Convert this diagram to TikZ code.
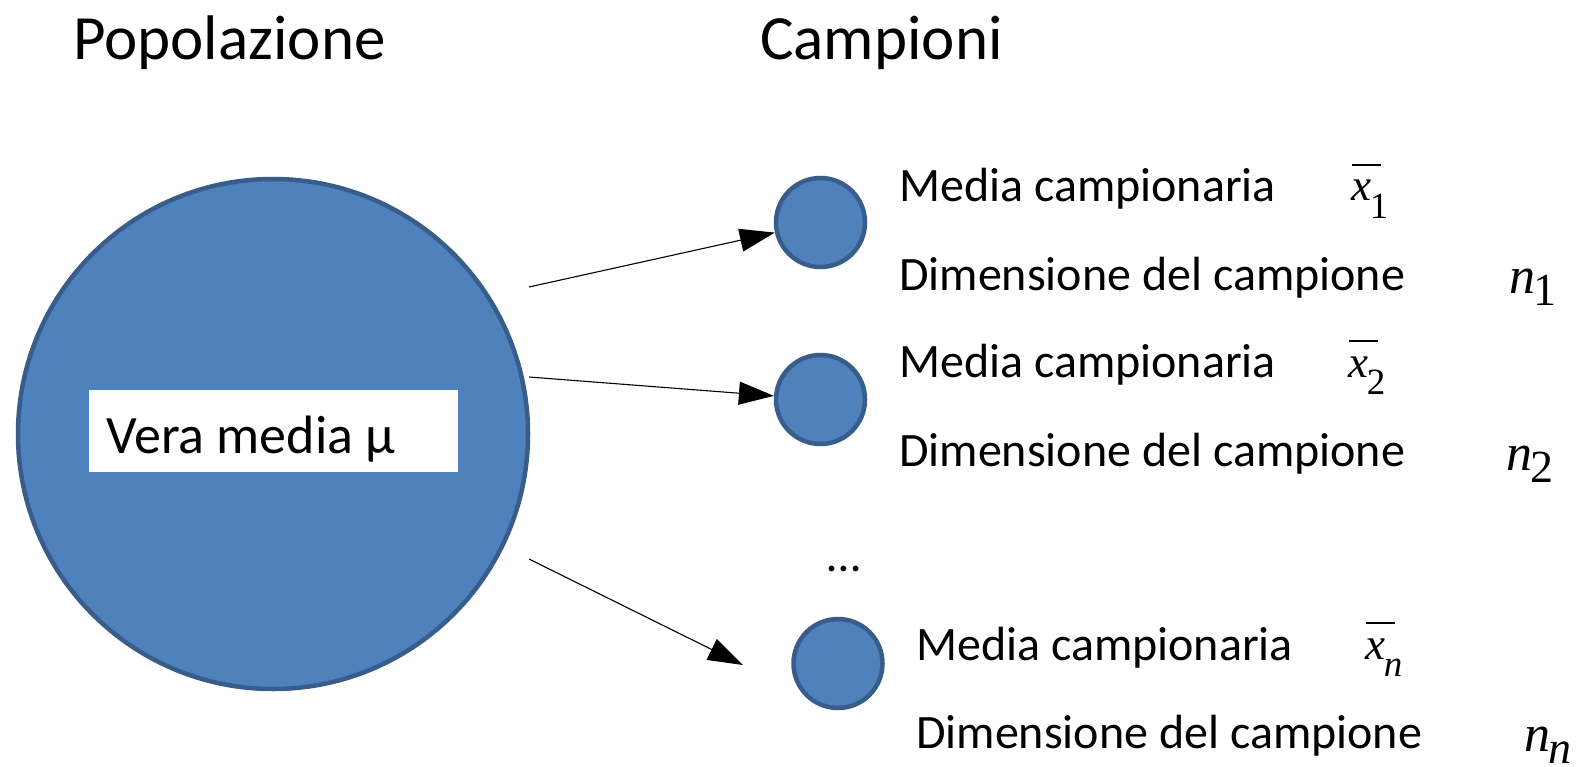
\documentclass[tikz,border=0pt]{standalone}
\usepackage{fontspec}
\setmainfont{Carlito}
\newfontfamily\tms{Liberation Serif}
\usetikzlibrary{arrows.meta}
\definecolor{popfill}{HTML}{4F81BD}
\definecolor{popdraw}{HTML}{385D8A}
\newcommand\myxbar[1]{{\tms\itshape\fontsize{45}{45}\selectfont\makebox[0pt][l]{\hspace{0.02em}\raisebox{0.77em}{\rule{0.64em}{2.2pt}}}x\kern-0.03em\raisebox{-0.38em}{\fontsize{37}{37}\selectfont #1}}}
\newcommand\mynn[1]{{\tms\itshape\fontsize{52}{52}\selectfont n\kern-0.04em\raisebox{-0.24em}{\fontsize{46}{46}\selectfont #1}}}
\begin{document}
\begin{tikzpicture}[x=1pt,y=-1pt,
  bigcirc/.style={circle, fill=popfill, draw=popdraw, line width=4.5pt, minimum size=510pt, inner sep=0pt},
  smallcirc/.style={circle, fill=popfill, draw=popdraw, line width=4.5pt, minimum size=89pt, inner sep=0pt},
  txt/.style={anchor=base west, inner sep=0pt, font=\fontsize{48}{48}\selectfont},
  ttl/.style={anchor=base west, inner sep=0pt, font=\fontsize{63}{63}\selectfont},
  mth/.style={anchor=base west, inner sep=0pt},
  arr/.style={-{Triangle[length=35pt,width=23pt]}, line width=1.1pt, black}
]
\useasboundingbox (0,0) rectangle (1578,767);

\node[ttl] (tpop) at (73,60) {Popolazione};
\node[ttl] (tcamp) at (760,60) {Campioni};

\node[bigcirc] (pop) at (273,434) {};
\node[fill=white, minimum width=369pt, minimum height=82pt, inner sep=0pt] (box) at (273.5,431) {};
\node[anchor=base west, inner sep=0pt, font=\fontsize{54}{54}\selectfont] (vera) at (106,453) {Vera media μ};

\node[smallcirc] (c1) at (820.5,222.5) {};
\node[smallcirc] (c2) at (820.5,399.5) {};
\node[smallcirc] (c3) at (838,663.5) {};

\node[txt] (m1) at (899,202) {Media campionaria};
\node[txt] (d1) at (899,290) {Dimensione del campione};
\node[txt] (m2) at (899,377) {Media campionaria};
\node[txt] (d2) at (899,466) {Dimensione del campione};
\node[txt] (dots) at (827,571) {…};
\node[txt] (m3) at (916,660) {Media campionaria};
\node[txt] (d3) at (916,748) {Dimensione del campione};

\node[mth] (x1) at (1351,201) {\myxbar{\upshape 1}};
\node[mth] (x2) at (1348,377) {\myxbar{\upshape 2}};
\node[mth] (xn) at (1365,659) {\myxbar{n}};
\node[mth] (n1) at (1509,293) {\mynn{\upshape 1}};
\node[mth] (n2) at (1506,470) {\mynn{\upshape 2}};
\node[mth] (nn) at (1524,751) {\mynn{n}};

\coordinate (s1) at (529,287);
\coordinate (s2) at (529,377);
\coordinate (s3) at (529,559);
\coordinate (e3) at (743,665);
\draw[arr] (s1) -- (c1);
\draw[arr] (s2) -- (c2);
\draw[arr] (s3) -- (e3);
\end{tikzpicture}
\end{document}
